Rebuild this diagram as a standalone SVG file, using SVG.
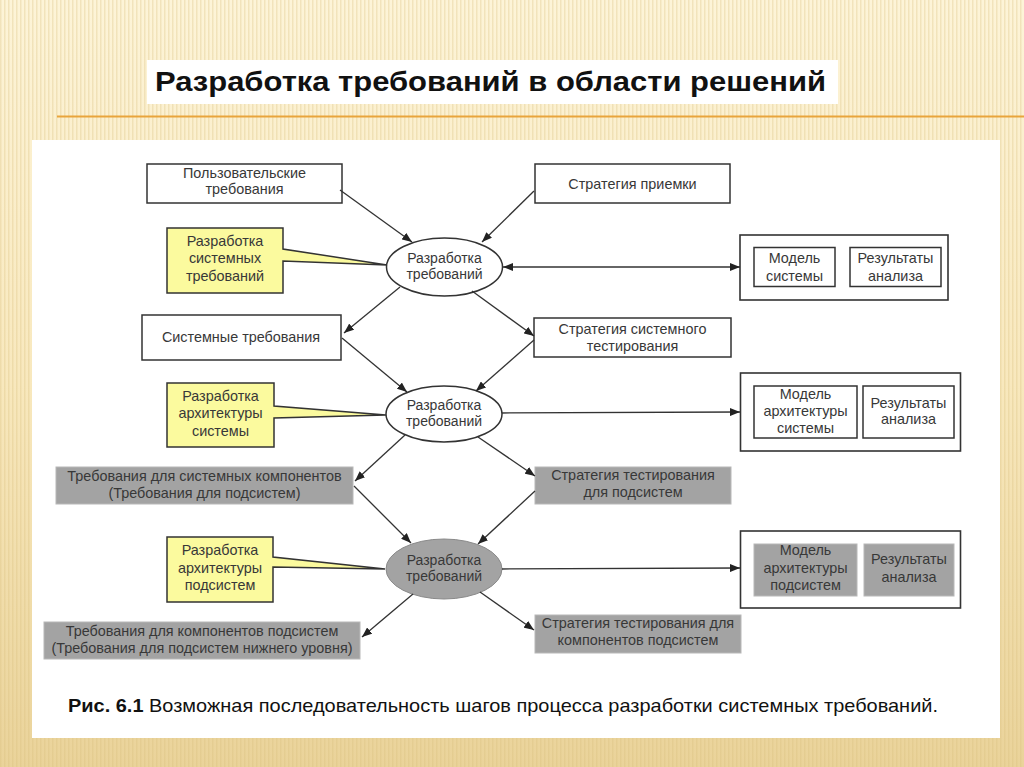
<svg xmlns="http://www.w3.org/2000/svg" width="1024" height="767" viewBox="0 0 1024 767">
<defs>
<linearGradient id="bg" x1="0" y1="0" x2="0" y2="1">
<stop offset="0" stop-color="#fdf4d8"/>
<stop offset="0.5" stop-color="#f8e8bd"/>
<stop offset="1" stop-color="#ead39a"/>
</linearGradient>
<pattern id="stripes" width="4" height="10" patternUnits="userSpaceOnUse">
<rect x="0" y="0" width="1.5" height="10" fill="#d9be7a" opacity="0.3"/>
</pattern>
<marker id="arr" markerUnits="userSpaceOnUse" markerWidth="10" markerHeight="8" refX="10" refY="4" orient="auto-start-reverse">
<path d="M0,0 L10,4 L0,8 z" fill="#222"/>
</marker>
<style>
.box{fill:#fff;stroke:#333;stroke-width:1.5}
.grp{fill:#fff;stroke:#333;stroke-width:1.6}
.gray{fill:#a3a3a3;stroke:#b8b8b8;stroke-width:1}
.yel{fill:#fbfa9e;stroke:#333;stroke-width:1.5;stroke-linejoin:miter}
.ell{fill:#fff;stroke:#333;stroke-width:1.5}
.ellg{fill:#a3a3a3;stroke:#8a8a8a;stroke-width:1}
.t{font-family:"Liberation Sans",Arial,sans-serif;font-size:14.4px;fill:#383838;text-anchor:middle}
.te{font-family:"Liberation Sans",Arial,sans-serif;font-size:14px;fill:#383838;text-anchor:middle}
.con line,.con path{stroke:#333;stroke-width:1.3;fill:none;marker-end:url(#arr)}
</style>
</defs>
<rect x="0" y="0" width="1024" height="767" fill="url(#bg)"/>
<rect x="0" y="0" width="1024" height="767" fill="url(#stripes)"/>
<g id="title">
<rect x="147" y="60" width="691" height="44" fill="#fff"/>
<text x="155" y="91" font-family="&quot;Liberation Sans&quot;,Arial,sans-serif" font-size="28.5" font-weight="bold" fill="#111" textLength="671" lengthAdjust="spacingAndGlyphs">Разработка требований в области решений</text>
</g>
<line x1="57" y1="116.5" x2="1024" y2="116.5" stroke="#e9a53c" stroke-width="2"/>
<rect id="panel" x="32" y="140" width="968" height="598" fill="#fff"/>

<g id="n-user">
<rect class="box" x="147" y="164" width="195" height="39"/>
<text class="t" x="244.5" y="177.5">Пользовательские</text>
<text class="t" x="244.5" y="194">требования</text>
</g>
<g id="n-accept">
<rect class="box" x="535" y="164" width="195" height="39"/>
<text class="t" x="632.5" y="188.5">Стратегия приемки</text>
</g>
<g id="c-sysreq">
<path class="yel" d="M167,228 H283 V249 L387,265 L283,261 V293 H167 Z"/>
<text class="t" x="225" y="245.5">Разработка</text>
<text class="t" x="225" y="263">системных</text>
<text class="t" x="225" y="281">требований</text>
</g>
<g id="e1">
<ellipse class="ell" cx="444.5" cy="267" rx="58" ry="29"/>
<text class="te" x="444.5" y="263">Разработка</text>
<text class="te" x="444.5" y="279">требований</text>
</g>
<g id="g1">
<rect class="grp" x="740" y="235" width="208" height="65"/>
<rect class="box" x="754" y="247.5" width="81" height="39"/>
<text class="t" x="794.5" y="262.5">Модель</text>
<text class="t" x="794.5" y="280.5">системы</text>
<rect class="box" x="850" y="247.5" width="91" height="39"/>
<text class="t" x="895.5" y="262.5">Результаты</text>
<text class="t" x="895.5" y="280.5">анализа</text>
</g>
<g id="n-sysreq">
<rect class="box" x="142" y="315" width="199" height="45"/>
<text class="t" x="241" y="342">Системные требования</text>
</g>
<g id="n-systest">
<rect class="box" x="534" y="318" width="197" height="39"/>
<text class="t" x="632.5" y="333.5">Стратегия системного</text>
<text class="t" x="632.5" y="350.5">тестирования</text>
</g>
<g id="c-arch">
<path class="yel" d="M167,383 H274 V406 L386,415 L274,418 V447 H167 Z"/>
<text class="t" x="220.5" y="400.5">Разработка</text>
<text class="t" x="220.5" y="418">архитектуры</text>
<text class="t" x="220.5" y="436">системы</text>
</g>
<g id="e2">
<ellipse class="ell" cx="444" cy="414" rx="58" ry="28"/>
<text class="te" x="444" y="410">Разработка</text>
<text class="te" x="444" y="426">требований</text>
</g>
<g id="g2">
<rect class="grp" x="740.5" y="373" width="220" height="78"/>
<rect class="box" x="754" y="386" width="103" height="52"/>
<text class="t" x="805.5" y="398.5">Модель</text>
<text class="t" x="805.5" y="415.5">архитектуры</text>
<text class="t" x="805.5" y="432.5">системы</text>
<rect class="box" x="863" y="386" width="91" height="52"/>
<text class="t" x="908.5" y="407.5">Результаты</text>
<text class="t" x="908.5" y="424">анализа</text>
</g>
<g id="n-subreq">
<rect class="gray" x="56" y="467" width="297" height="37"/>
<text class="t" x="204.5" y="480.5">Требования для системных компонентов</text>
<text class="t" x="204.5" y="497.5">(Требования для подсистем)</text>
</g>
<g id="n-subtest">
<rect class="gray" x="535" y="467" width="196" height="37"/>
<text class="t" x="633" y="479.5">Стратегия тестирования</text>
<text class="t" x="633" y="496.5">для подсистем</text>
</g>
<g id="c-subarch">
<path class="yel" d="M167,537 H273 V557 L385,569 L273,567 V602 H167 Z"/>
<text class="t" x="220" y="554.5">Разработка</text>
<text class="t" x="220" y="572.5">архитектуры</text>
<text class="t" x="220" y="590">подсистем</text>
</g>
<g id="e3">
<ellipse class="ellg" cx="444" cy="569" rx="58" ry="30"/>
<text class="te" x="444" y="565">Разработка</text>
<text class="te" x="444" y="581">требований</text>
</g>
<g id="g3">
<rect class="grp" x="740.5" y="531" width="220" height="77"/>
<rect class="gray" x="754" y="544" width="103" height="52"/>
<text class="t" x="805.5" y="554.5">Модель</text>
<text class="t" x="805.5" y="572.5">архитектуры</text>
<text class="t" x="805.5" y="590">подсистем</text>
<rect class="gray" x="864" y="544" width="90" height="52"/>
<text class="t" x="909" y="563.5">Результаты</text>
<text class="t" x="909" y="581.5">анализа</text>
</g>
<g id="n-compreq">
<rect class="gray" x="44" y="622" width="316" height="37"/>
<text class="t" x="202" y="635.5">Требования для компонентов подсистем</text>
<text class="t" x="202" y="652.5">(Требования для подсистем нижнего уровня)</text>
</g>
<g id="n-comptest">
<rect class="gray" x="535" y="615" width="206" height="38"/>
<text class="t" x="638" y="627.5">Стратегия тестирования для</text>
<text class="t" x="638" y="645">компонентов подсистем</text>
</g>

<g id="connectors" class="con">
<line x1="340" y1="190" x2="412" y2="242"/>
<line x1="534" y1="191" x2="482" y2="242"/>
<line x1="503" y1="267" x2="740" y2="267" style="marker-start:url(#arr)"/>
<line x1="400" y1="287" x2="344" y2="333"/>
<line x1="472" y1="291" x2="534" y2="336"/>
<line x1="342" y1="338" x2="407" y2="392"/>
<line x1="534" y1="340" x2="476" y2="391"/>
<line x1="502" y1="413" x2="740" y2="412"/>
<line x1="405" y1="435" x2="355" y2="481"/>
<line x1="478" y1="437" x2="535" y2="476"/>
<line x1="354" y1="486" x2="411" y2="543"/>
<line x1="535" y1="491" x2="478" y2="544"/>
<line x1="502" y1="569" x2="740" y2="568"/>
<line x1="413" y1="594" x2="362" y2="637"/>
<line x1="480" y1="592" x2="534" y2="630"/>
</g>

<text id="caption" x="68" y="712" font-family="&quot;Liberation Sans&quot;,Arial,sans-serif" font-size="19" fill="#111" textLength="870" lengthAdjust="spacingAndGlyphs"><tspan font-weight="bold">Рис. 6.1</tspan> Возможная последовательность шагов процесса разработки системных требований.</text>
</svg>
